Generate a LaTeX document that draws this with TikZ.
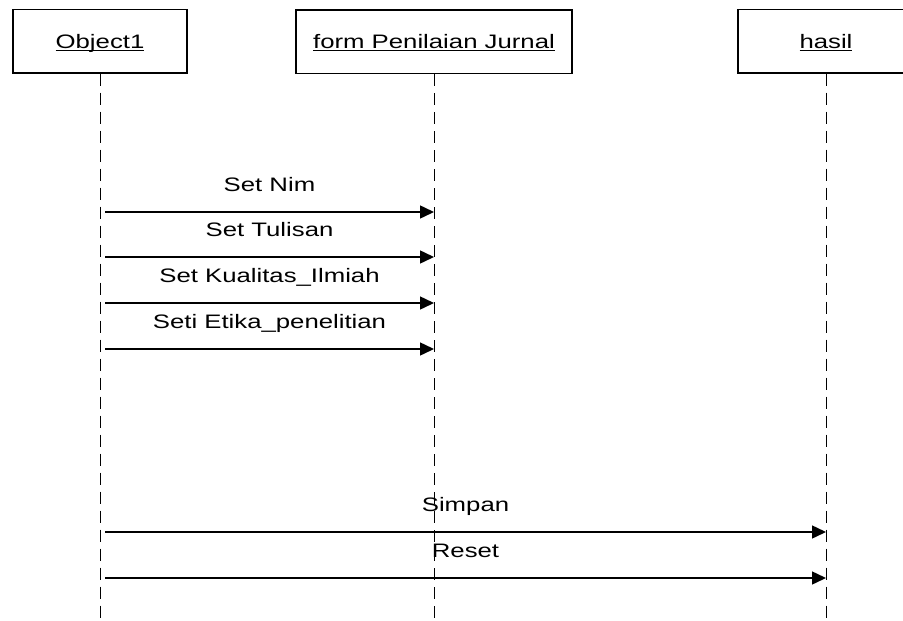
\documentclass[tikz,border=0pt]{standalone}
\usepackage{fontspec}
\setmainfont{Liberation Sans}[FakeStretch=1.32]
\usepackage{tikz}
\usetikzlibrary{arrows.meta,positioning}

% underline that ignores descenders
\newcommand{\ulname}[1]{\setbox0\hbox{#1}\rlap{\rule[-2.5pt]{\wd0}{1.3pt}}\box0}

\begin{document}
\begin{tikzpicture}[
  x=1pt, y=-1pt,
  obj/.style={rectangle, draw=black, line width=1.3pt, fill=white,
              minimum height=63.5pt, inner sep=0pt, text height=14pt, text depth=0pt,
              font=\fontsize{19.5}{23}\selectfont},
  lifeline/.style={draw=black, line width=1pt, dash pattern=on 12pt off 7pt},
  msg/.style={-{Triangle[length=14pt, width=13pt]}, line width=1.5pt, color=black},
  lbl/.style={font=\fontsize{19.5}{23}\selectfont, anchor=base, yshift=21pt, inner sep=0pt},
]
  \useasboundingbox (0,0) rectangle (903,621);

  % Objects
  \node[obj, minimum width=174pt] (object) at (100,41.3) {\ulname{Object1}};
  \node[obj, minimum width=276pt] (form) at (434,41.6) {\ulname{form Penilaian Jurnal}};
  \node[obj, minimum width=176pt] (hasil) at (826,41.3) {\ulname{hasil}};

  % Lifelines
  \foreach \o in {object,form,hasil}
    \draw[lifeline] (\o.south) -- (\o.south |- 0,621);

  % Messages to form
  \foreach \y/\txt in {212/Set Nim, 257/Set Tulisan, 303/Set Kualitas\_Ilmiah, 349/Seti Etika\_penelitian}
    \draw[msg] ([xshift=5pt]object.south |- 0,\y) -- node[lbl] {\txt} (form.south |- 0,\y);

  % Messages to hasil
  \foreach \y/\txt in {532/Simpan, 578/Reset}
    \draw[msg] ([xshift=5pt]object.south |- 0,\y) -- node[lbl] {\txt} (hasil.south |- 0,\y);
\end{tikzpicture}
\end{document}
